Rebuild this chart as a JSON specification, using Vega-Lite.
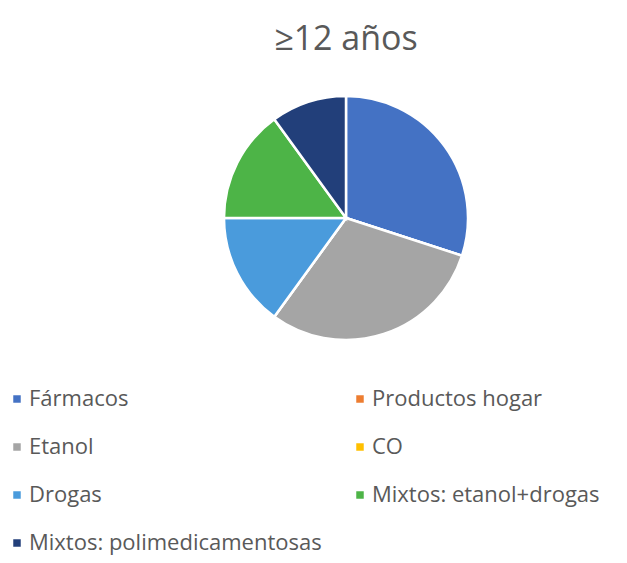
{
  "$schema": "https://vega.github.io/schema/vega-lite/v6.json",
  "autosize": "none",
  "width": 562,
  "height": 236,
  "padding": {"left": 65, "top": 100, "right": 0, "bottom": 227},
  "background": "white",
  "title": {
    "text": "≥12 años",
    "font": "Open Sans",
    "fontSize": 34,
    "fontWeight": "normal",
    "color": "#595959",
    "anchor": "middle",
    "offset": 34
  },
  "data": {
    "values": [
      {"categoria": "Fármacos", "valor": 30, "orden": 1},
      {"categoria": "Productos hogar", "valor": 0, "orden": 2},
      {"categoria": "Etanol", "valor": 30, "orden": 3},
      {"categoria": "CO", "valor": 0, "orden": 4},
      {"categoria": "Drogas", "valor": 15, "orden": 5},
      {"categoria": "Mixtos: etanol+drogas", "valor": 15, "orden": 6},
      {"categoria": "Mixtos: polimedicamentosas", "valor": 10, "orden": 7}
    ]
  },
  "mark": {"type": "arc", "outerRadius": 122, "stroke": "white", "strokeWidth": 2.5},
  "encoding": {
    "theta": {"field": "valor", "type": "quantitative", "stack": true},
    "order": {"field": "orden", "type": "quantitative"},
    "color": {
      "field": "categoria",
      "type": "nominal",
      "scale": {
        "domain": ["Fármacos", "Productos hogar", "Etanol", "CO", "Drogas", "Mixtos: etanol+drogas", "Mixtos: polimedicamentosas"],
        "range": ["#4472C4", "#ED7D31", "#A5A5A5", "#FFC000", "#4A9BDC", "#4DB447", "#223F7A"]
      },
      "legend": {
        "title": null,
        "orient": "none",
        "legendX": -59,
        "legendY": 288,
        "direction": "horizontal",
        "columns": 2,
        "columnPadding": 27,
        "rowPadding": 26,
        "symbolType": "square",
        "symbolSize": 56,
        "symbolStrokeWidth": 0,
        "labelFont": "Open Sans",
        "labelFontSize": 22,
        "labelColor": "#595959",
        "labelOffset": 1,
        "labelLimit": 400
      }
    }
  },
  "config": {"view": {"stroke": null}}
}
